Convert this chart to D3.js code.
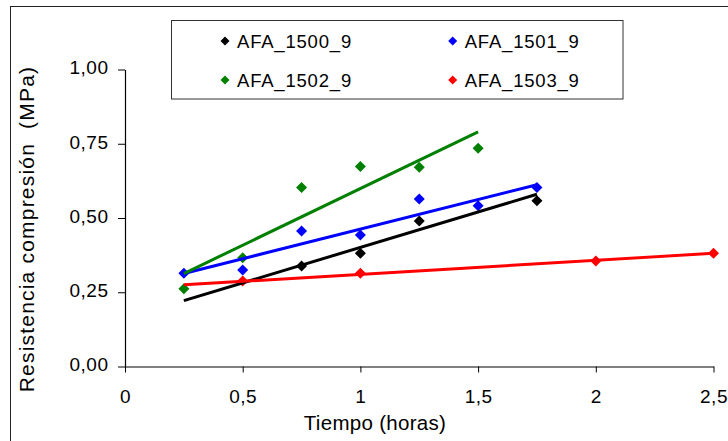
<!DOCTYPE html>
<html>
<head>
<meta charset="utf-8">
<script src="https://cdn.jsdelivr.net/npm/d3@7/dist/d3.min.js"></script>
<style>
  html, body { margin: 0; padding: 0; background: #fff; }
  svg { display: block; }
  text { font-family: "Liberation Sans", Arial, sans-serif; fill: #000; }
</style>
</head>
<body>
<svg id="chart" width="728" height="441"></svg>
<script>
// Compressive strength versus curing time for four mixes
const seriesNames = ["AFA_1500_9", "AFA_1501_9", "AFA_1502_9", "AFA_1503_9"];
const seriesColors = ["#000000", "#0000ff", "#008000", "#ff0000"];

// Measured points [hours, MPa]
const afa1500 = [[0.75, 0.338], [1.0, 0.381], [1.25, 0.49], [1.75, 0.558]];
const afa1501 = [[0.25, 0.314], [0.5, 0.325], [0.75, 0.456], [1.0, 0.443], [1.25, 0.564], [1.5, 0.541], [1.75, 0.603]];
const afa1502 = [[0.25, 0.262], [0.5, 0.366], [0.75, 0.603], [1.0, 0.673], [1.25, 0.671], [1.5, 0.735]];
const afa1503 = [[0.5, 0.288], [1.0, 0.314], [2.0, 0.355], [2.5, 0.381]];

// Linear trend lines, start and end [hours, MPa]
const trend1500 = [[0.25, 0.222], [1.75, 0.58]];
const trend1501 = [[0.25, 0.313], [1.75, 0.612]];
const trend1502 = [[0.25, 0.313], [1.5, 0.79]];
const trend1503 = [[0.25, 0.275], [2.5, 0.381]];

const xTicks = [0, 0.5, 1, 1.5, 2, 2.5];
const xTickLabels = ["0", "0,5", "1", "1,5", "2", "2,5"];
const yTicks = [0, 0.25, 0.5, 0.75, 1];
const yTickLabels = ["0,00", "0,25", "0,50", "0,75", "1,00"];

const xTitle = "Tiempo (horas)";
const yTitle = "Resistencia compresión  (MPa)";

const points = [afa1500, afa1501, afa1502, afa1503];
const trends = [trend1500, trend1501, trend1502, trend1503];

const svg = d3.select("#chart");

// Outer frame
svg.append("rect")
  .attr("x", 10.5).attr("y", 6.5)
  .attr("width", 740).attr("height", 460)
  .attr("fill", "none").attr("stroke", "#222").attr("stroke-width", 1);

const x = d3.scaleLinear().domain([0, 2.5]).range([125, 713.5]);
const y = d3.scaleLinear().domain([0, 1]).range([366.5, 69.5]);

// Axes
const xAxis = svg.append("g")
  .attr("transform", `translate(0,${y(0)})`)
  .call(d3.axisBottom(x).tickValues(xTicks)
    .tickFormat((d, i) => xTickLabels[i]).tickSize(6).tickSizeOuter(0));
const yAxis = svg.append("g")
  .attr("transform", `translate(${x(0)},0)`)
  .call(d3.axisLeft(y).tickValues(yTicks)
    .tickFormat((d, i) => yTickLabels[i]).tickSize(7).tickSizeOuter(0));

[xAxis, yAxis].forEach(g => {
  g.select(".domain").attr("stroke", "#000").attr("stroke-width", 1.2);
  g.selectAll(".tick line").attr("stroke", "#000").attr("stroke-width", 1);
  g.selectAll(".tick text")
    .attr("font-family", "'Liberation Sans', Arial, sans-serif")
    .attr("font-size", 19).attr("letter-spacing", 0.5).attr("fill", "#000");
});
xAxis.selectAll(".tick text").attr("y", 36.5).attr("dy", 0);
yAxis.selectAll(".tick text").attr("x", -16.5).attr("dy", 4.3);

// Axis titles
svg.append("text")
  .attr("x", 375).attr("y", 430)
  .attr("text-anchor", "middle")
  .attr("font-size", 20.5).attr("letter-spacing", 0.3)
  .text(xTitle);
svg.append("text")
  .attr("transform", "translate(34,229) rotate(-90)")
  .attr("text-anchor", "middle")
  .attr("font-size", 21).attr("letter-spacing", 1.2)
  .attr("xml:space", "preserve")
  .style("white-space", "pre")
  .text(yTitle);

const diamond = size => d3.symbol(d3.symbolSquare, size * size / 2)();

// Markers
points.forEach((pts, i) => {
  svg.append("g").selectAll("path")
    .data(pts).join("path")
    .attr("d", diamond(11))
    .attr("transform", d => `translate(${x(d[0])},${y(d[1])}) rotate(45)`)
    .attr("fill", seriesColors[i]);
});

// Trend lines
const line = d3.line().x(d => x(d[0])).y(d => y(d[1]));
trends.forEach((t, i) => {
  svg.append("path")
    .datum(t)
    .attr("d", line)
    .attr("fill", "none")
    .attr("stroke", seriesColors[i])
    .attr("stroke-width", 3);
});

// Legend
const legend = svg.append("g");
legend.append("rect")
  .attr("x", 171.5).attr("y", 20.5)
  .attr("width", 451.5).attr("height", 78.5)
  .attr("fill", "#fff").attr("stroke", "#333").attr("stroke-width", 1);
const legendCols = [225, 452.7];
const legendRows = [41, 80];
seriesNames.forEach((name, i) => {
  const cx = legendCols[i % 2], cy = legendRows[Math.floor(i / 2)];
  legend.append("path")
    .attr("d", diamond(9))
    .attr("transform", `translate(${cx},${cy}) rotate(45)`)
    .attr("fill", seriesColors[i]);
  legend.append("text")
    .attr("x", cx + 12).attr("y", cy + 6.5)
    .attr("font-size", 18.5).attr("letter-spacing", 0.8)
    .text(name);
});
</script>
</body>
</html>
